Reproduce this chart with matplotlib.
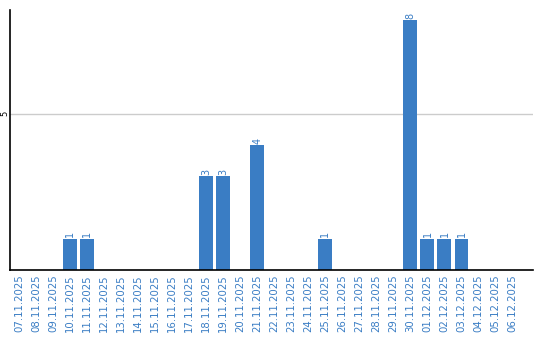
import matplotlib
matplotlib.use("Agg")
import matplotlib.pyplot as plt
import numpy as np

dates = ["07.11.2025", "08.11.2025", "09.11.2025", "10.11.2025", "11.11.2025",
         "12.11.2025", "13.11.2025", "14.11.2025", "15.11.2025", "16.11.2025",
         "17.11.2025", "18.11.2025", "19.11.2025", "20.11.2025", "21.11.2025",
         "22.11.2025", "23.11.2025", "24.11.2025", "25.11.2025", "26.11.2025",
         "27.11.2025", "28.11.2025", "29.11.2025", "30.11.2025", "01.12.2025",
         "02.12.2025", "03.12.2025", "04.12.2025", "05.12.2025", "06.12.2025"]
counts = [0, 0, 0, 1, 1, 0, 0, 0, 0, 0, 0, 3, 3, 0, 4,
          0, 0, 0, 1, 0, 0, 0, 0, 8, 1, 1, 1, 0, 0, 0]

blue = "#3a7dc4"

fig = plt.figure(figsize=(5.4, 3.4), dpi=100)
ax = fig.add_axes([0.0194, 0.206, 0.9676, 0.764])

x = np.arange(len(dates))
ax.bar(x, counts, width=0.82, color=blue, zorder=2)

for xi, c in zip(x, counts):
    if c > 0:
        ax.text(xi, c + 0.05, str(c), rotation=90, ha="center", va="bottom",
                fontsize=7, color=blue)

ax.set_xlim(-0.5, 30.2)
ax.set_ylim(0, 8.32)
ax.set_xticks(x)
ax.set_xticklabels(dates, rotation=90, fontsize=7.3, color=blue)
ax.set_yticks([5])
ax.set_yticklabels(["5"], rotation=90, fontsize=6, va="center")
ax.tick_params(axis="x", length=0, pad=3)
ax.tick_params(axis="y", length=0, pad=1)
ax.yaxis.grid(True, color="#cccccc", linewidth=1, zorder=0)

for s in ["top", "right"]:
    ax.spines[s].set_visible(False)
ax.spines["left"].set_linewidth(1.2)
ax.spines["bottom"].set_linewidth(1.2)

fig.savefig("out.png", dpi=100)
